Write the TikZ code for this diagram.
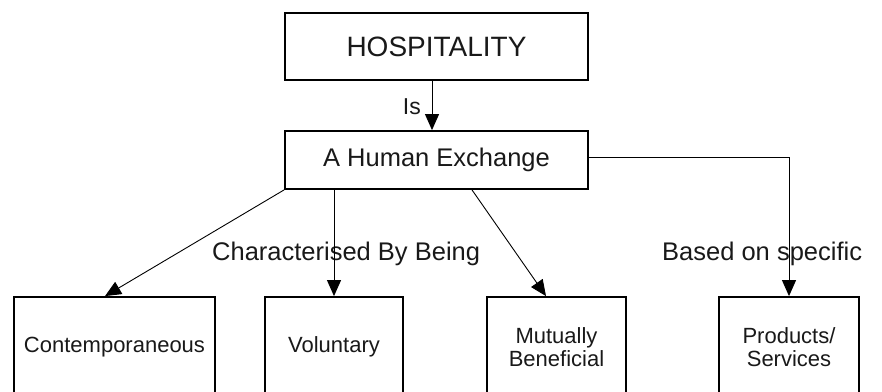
\documentclass[tikz,border=0pt]{standalone}
\usepackage{fontspec}
\setmainfont{Liberation Sans}
\usetikzlibrary{arrows.meta,calc}
\begin{document}
\begin{tikzpicture}[x=1pt,y=-1pt,
  box/.style={draw, line width=1.8pt, inner sep=0pt, align=center, text=black!90},
  conn/.style={line width=0.9pt, -{Triangle[length=16pt,width=14pt]}},
  lbl/.style={inner sep=0pt, text=black!90},
  bigf/.style={font=\fontsize{28}{30}\selectfont},
  midf/.style={font=\fontsize{25.5}{28}\selectfont},
  smallf/.style={font=\fontsize{22}{22.5}\selectfont}]
\clip (0,0) rectangle (882,391);
\node[box, bigf, minimum width=303pt, minimum height=67pt] (hosp) at (436.5,46.5) {HOSPITALITY};
\node[box, midf, minimum width=303pt, minimum height=58pt] (hx) at (436.5,160) {A Human Exchange};
\node[box, smallf, minimum width=201pt, minimum height=100pt] (c1) at (114.5,347) {Contemporaneous};
\node[box, smallf, minimum width=138pt, minimum height=100pt] (c2) at (334,347) {Voluntary};
\node[box, smallf, minimum width=139pt, minimum height=100pt] (c3) at (556.5,347) {Mutually\\Beneficial};
\node[box, smallf, minimum width=140pt, minimum height=100pt] (c4) at (789,347) {Products/\\Services};
\node[lbl, font=\fontsize{23}{24}\selectfont, anchor=base east] (is) at (421,114) {Is};
\node[lbl, midf, anchor=base west] (cb) at (212,260) {Characterised By Being};
\node[lbl, midf, anchor=base west] (bs) at (662,260) {Based on specific};
\draw[conn] ($(hosp.south)+(-4.5,0)$) -- ($(hx.north)+(-4.5,0)$);
\draw[conn] (hx.south west) -- ($(c1.north)+(-9.5,0)$);
\draw[conn] (c2.north |- hx.south) -- (c2.north);
\draw[conn] ($(hx.south)+(35.5,0)$) -- ($(c3.north)+(-10.5,0)$);
\draw[conn] ($(hx.east)+(0,-3)$) -| (c4.north);
\end{tikzpicture}
\end{document}
